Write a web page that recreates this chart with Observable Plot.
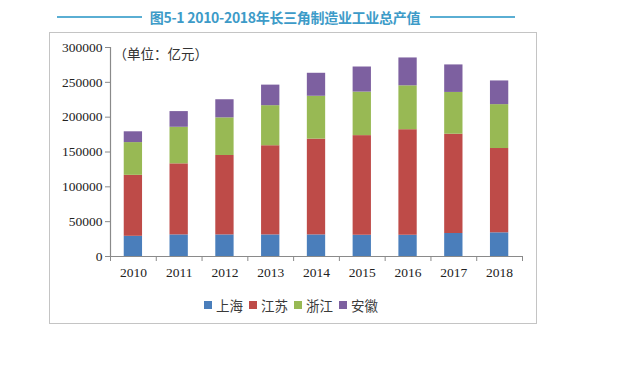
<!DOCTYPE html>
<html>
<head>
<meta charset="utf-8">
<script src="https://cdn.jsdelivr.net/npm/d3@7"></script>
<script src="https://cdn.jsdelivr.net/npm/@observablehq/plot@0.6"></script>
<style>
  html, body { margin: 0; padding: 0; background: #fff; }
  #page { position: relative; width: 640px; height: 371px; overflow: hidden; background: #fff; }
  .tline { position: absolute; top: 16px; height: 2px; background: #5aaed3; }
  #ttxt { position: absolute; top: 6px; left: 135px; width: 300px; text-align: center; font-family: "Noto Sans CJK SC", "Noto Sans", sans-serif; font-weight: 700; font-size: 14px; line-height: 22px; color: #3d9bc8; white-space: nowrap; letter-spacing: -0.3px; }
  #box { position: absolute; left: 49px; top: 32px; width: 486px; height: 290px; border: 1.5px solid #c4c4c4; }
  #chart { position: absolute; left: 0; top: 32px; }
  #legend { position: absolute; left: 204px; top: 295px; display: flex; align-items: center; font-family: "Noto Sans CJK SC", serif; font-size: 13.5px; color: #3a3a3a; }
  #legend .item { display: flex; align-items: center; margin-right: 6px; }
  #legend .sw { width: 8px; height: 8px; margin-right: 4px; }
</style>
</head>
<body>
<div id="page">
  <div class="tline" style="left:57px;width:85px"></div>
  <div id="ttxt">图5-1 2010-2018年长三角制造业工业总产值</div>
  <div class="tline" style="left:430px;width:85px"></div>
  <div id="box"></div>
  <div id="chart"></div>
  <div id="legend"></div>
</div>
<script>
const years = [2010, 2011, 2012, 2013, 2014, 2015, 2016, 2017, 2018];
const regions = ["上海", "江苏", "浙江", "安徽"];
const colors = ["#4a7ebb", "#be4b48", "#98b954", "#7d60a0"];
const shanghai = [29000, 31000, 31000, 31000, 31000, 30500, 30500, 33000, 34000];
const jiangsu  = [87500, 102000, 114000, 128000, 137500, 143000, 151500, 142500, 121000];
const zhejiang = [47000, 52500, 54000, 57500, 61500, 62500, 63000, 60000, 63000];
const anhui    = [15500, 22500, 26000, 29500, 33000, 36000, 40000, 39500, 34000];
const yTicks = [0, 50000, 100000, 150000, 200000, 250000, 300000];
const unitLabel = "（单位：亿元）";

const series = [shanghai, jiangsu, zhejiang, anhui];
const data = [];
years.forEach((y, i) => regions.forEach((r, j) => data.push({year: y, region: r, value: series[j][i]})));

const xDomain = [years[0] - 0.5, years[years.length - 1] + 0.5];
const boundaries = years.map(y => y - 0.5).concat([xDomain[1]]);
const half = 0.2;
const axisColor = "#8a8a8a";
const font = "'Liberation Serif', 'Times New Roman', serif";

const chart = Plot.plot({
  width: 640,
  height: 260,
  marginLeft: 110,
  marginRight: 118,
  marginTop: 15,
  marginBottom: 36,
  style: { fontFamily: font, fontSize: "13.5px", color: "#222", background: "transparent" },
  x: { domain: xDomain, label: null },
  y: { domain: [0, 300000], label: null },
  color: { domain: regions, range: colors },
  marks: [
    Plot.rectY(data, {x1: d => d.year - half, x2: d => d.year + half, y: "value", fill: "region", order: regions}),
    Plot.ruleY([0], {stroke: axisColor, strokeWidth: 1.2}),
    Plot.ruleX([xDomain[0]], {stroke: axisColor, strokeWidth: 1.2}),
    Plot.axisY({ticks: yTicks, tickSize: 5, tickPadding: 3, tickFormat: d => String(d), stroke: axisColor, fontSize: 13.5, fill: "#222"}),
    Plot.axisX({ticks: boundaries, tickSize: 5, tickFormat: () => "", stroke: axisColor}),
    Plot.axisX({ticks: years, tickSize: 0, tickPadding: 11, tickFormat: d => String(d), fontSize: 13.5, fill: "#222"}),
    Plot.text([unitLabel], {frameAnchor: "top-left", dx: 3, dy: 2, fontSize: 13.5, fill: "#333", fontFamily: "'Noto Sans CJK SC', sans-serif", textAnchor: "start"})
  ]
});
document.getElementById("chart").appendChild(chart);

const legend = document.getElementById("legend");
regions.forEach((r, j) => {
  const it = document.createElement("div");
  it.className = "item";
  const sw = document.createElement("div");
  sw.className = "sw";
  sw.style.background = colors[j];
  const t = document.createElement("span");
  t.textContent = r;
  it.appendChild(sw); it.appendChild(t);
  legend.appendChild(it);
});
</script>
</body>
</html>
